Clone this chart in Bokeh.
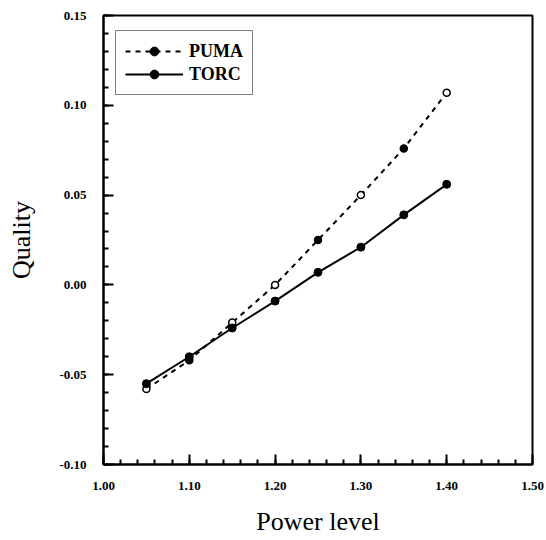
import numpy as np
from bokeh.plotting import figure
from bokeh.models import FixedTicker, PrintfTickFormatter, Legend, LegendItem, ColumnDataSource
from bokeh.embed import file_html
from bokeh.resources import INLINE

power = [1.05, 1.10, 1.15, 1.20, 1.25, 1.30, 1.35, 1.40]
puma = [-0.058, -0.042, -0.021, 0.000, 0.025, 0.050, 0.076, 0.107]
torc = [-0.055, -0.040, -0.024, -0.009, 0.007, 0.021, 0.039, 0.056]
x_ticks = [1.00, 1.10, 1.20, 1.30, 1.40, 1.50]
y_ticks = [-0.10, -0.05, 0.00, 0.05, 0.10, 0.15]

# marker fill style for PUMA points (scan shows mixed open/filled)
puma_fill = ["white", "black", "white", "white", "black", "white", "black", "white"]

FONT = "Liberation Serif"

p = figure(width=544, height=540, output_backend="svg", toolbar_location=None,
           x_range=(1.00, 1.50), y_range=(-0.10, 0.15),
           min_border_left=103, min_border_right=12, min_border_top=15, min_border_bottom=76)

p.outline_line_color = "black"
p.outline_line_width = 2
p.grid.visible = False
p.background_fill_color = "white"

x_minor = [float(v) for v in np.round(np.arange(x_ticks[0], x_ticks[-1] + 1e-9, 0.02), 3)]
y_minor = [float(v) for v in np.round(np.arange(y_ticks[0], y_ticks[-1] + 1e-9, 0.01), 3)]

for ax, ticks, minor in ((p.xaxis[0], x_ticks, x_minor), (p.yaxis[0], y_ticks, y_minor)):
    ax.ticker = FixedTicker(ticks=ticks, minor_ticks=minor)
    ax.formatter = PrintfTickFormatter(format="%.2f")
    ax.axis_line_width = 2
    ax.axis_line_color = "black"
    ax.major_tick_in = 10
    ax.major_tick_out = 0
    ax.minor_tick_in = 5
    ax.minor_tick_out = 0
    ax.major_tick_line_width = 2
    ax.minor_tick_line_width = 2
    ax.major_tick_line_color = "black"
    ax.minor_tick_line_color = "black"
    ax.major_label_text_font = FONT
    ax.major_label_text_font_style = "bold"
    ax.major_label_text_font_size = "13px"
    ax.major_label_text_color = "black"
    ax.axis_label_text_font = FONT
    ax.axis_label_text_font_style = "normal"
    ax.axis_label_text_font_size = "26px"
    ax.axis_label_text_color = "black"

p.xaxis.axis_label = "Power level"
p.yaxis.axis_label = "Quality"
p.xaxis.major_label_standoff = 17
p.yaxis.major_label_standoff = 17
p.xaxis.axis_label_standoff = 14
p.yaxis.axis_label_standoff = 20

src_p = ColumnDataSource(dict(x=power, y=puma, fill=puma_fill))
src_t = ColumnDataSource(dict(x=power, y=torc))

lp = p.line("x", "y", source=src_p, line_color="black", line_width=2, line_dash="5 5")
sp = p.scatter("x", "y", source=src_p, size=7, marker="circle", fill_color="fill",
               line_color="black", line_width=1.5)
lt = p.line("x", "y", source=src_t, line_color="black", line_width=2)
st = p.scatter("x", "y", source=src_t, size=8, marker="circle", fill_color="black",
               line_color="black", line_width=1)

# legend markers (filled) for both series, kept off-range
lg_p = p.scatter([1.2], [-0.5], size=8, fill_color="black", line_color="black")
lg_t = p.scatter([1.2], [-0.5], size=8, fill_color="black", line_color="black")

legend = Legend(items=[LegendItem(label="PUMA", renderers=[lp, lg_p]),
                       LegendItem(label="TORC", renderers=[lt, lg_t])],
                location=(12, 369))
legend.margin = 0
legend.padding = 9
legend.spacing = 1
legend.glyph_width = 58
legend.glyph_height = 22
legend.label_height = 22
legend.label_standoff = 6
legend.label_text_font = FONT
legend.label_text_font_style = "bold"
legend.label_text_font_size = "18px"
legend.label_text_color = "black"
legend.border_line_color = "black"
legend.border_line_width = 1.5
legend.background_fill_alpha = 1
p.add_layout(legend, "center")

open("out.html", "w").write(file_html(p, INLINE))
